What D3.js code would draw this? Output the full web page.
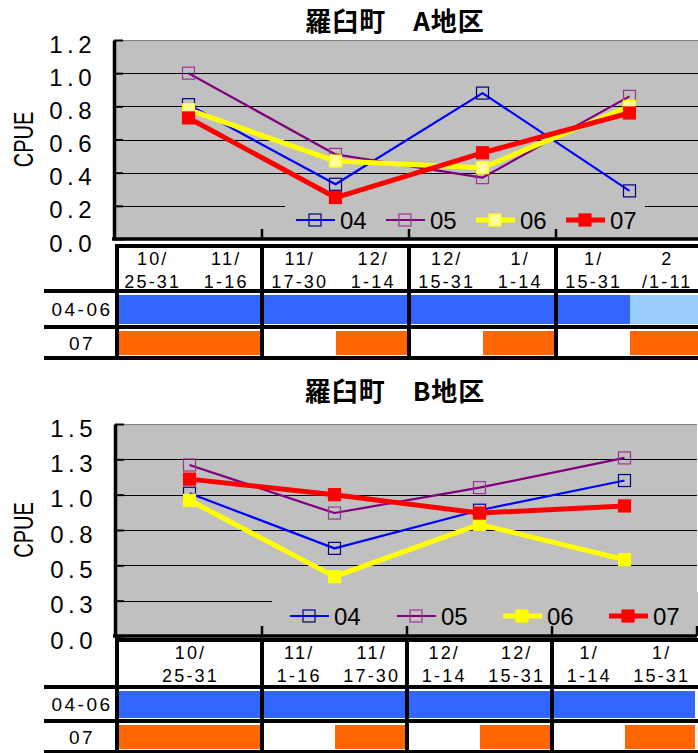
<!DOCTYPE html>
<html>
<head>
<meta charset="utf-8">
<script src="https://cdn.jsdelivr.net/npm/d3@7"></script>
<style>
  body { margin: 0; background: #fff; }
  svg { display: block; }
</style>
</head>
<body>
<svg id="chart" width="698" height="753"></svg>
<script>
// series names (years)
var seriesNames = ["04", "05", "06", "07"];

// A地区 CPUE, one value per period group
var a04 = [0.81, 0.33, 0.88, 0.29];
var a05 = [1.00, 0.51, 0.37, 0.86];
var a06 = [0.78, 0.47, 0.43, 0.80];
var a07 = [0.73, 0.25, 0.52, 0.76];

// B地区 CPUE
var b04 = [1.01, 0.62, 0.89, 1.10];
var b05 = [1.21, 0.87, 1.05, 1.26];
var b06 = [0.96, 0.42, 0.79, 0.54];
var b07 = [1.11, 1.00, 0.87, 0.92];

// y ticks
var ticksA = [0, 0.2, 0.4, 0.6, 0.8, 1.0, 1.2];
var tickLabelsA = ["0.0", "0.2", "0.4", "0.6", "0.8", "1.0", "1.2"];
var ticksB = [0, 0.25, 0.5, 0.75, 1.0, 1.25, 1.5];
var tickLabelsB = ["0.0", "0.3", "0.5", "0.8", "1.0", "1.3", "1.5"];

// period table headers (two half-columns per group; null = label spans group)
var headA = [["10/", "25-31"], ["11/", "1-16"], ["11/", "17-30"], ["12/", "1-14"],
             ["12/", "15-31"], ["1/", "1-14"], ["1/", "15-31"], ["2", "/1-11"]];
var headB = [["10/", "25-31"], null, ["11/", "1-16"], ["11/", "17-30"],
             ["12/", "1-14"], ["12/", "15-31"], ["1/", "1-14"], ["1/", "15-31"]];

// fishing period rows: b = blue, l = light blue, o = orange, "" = none
var rowLabels = ["04-06", "07"];
var periodA0406 = ["b", "b", "b", "b", "b", "b", "b", "l"];
var periodA07   = ["o", "o", "", "o", "", "o", "", "o"];
var periodB0406 = ["b", "b", "b", "b", "b", "b", "b", "b"];
var periodB07   = ["o", "o", "", "o", "", "o", "", "o"];

var barColor = { b: "#3366ff", l: "#99ccff", o: "#ff6600" };

var styles = [
  { line: "#0000ff", w: 2.2, fill: "none",    stroke: "#000080" },
  { line: "#800080", w: 2.2, fill: "none",    stroke: "#993399" },
  { line: "#ffff00", w: 5,   fill: "#ffff99", stroke: "#ffff00" },
  { line: "#ff0000", w: 5,   fill: "#ff0000", stroke: "#ff0000" }
];

var svg = d3.select("#chart");
var font = "'Liberation Sans', Arial, sans-serif";

function drawPanel(o) {
  var g = svg.append("g");
  var x = d3.scaleBand().domain(d3.range(4)).range(o.xRange).padding(0);
  var y = d3.scaleLinear().domain(o.domain).range([o.bottom, o.top]);
  var left = o.axisX, right = o.right;

  g.append("text").attr("x", 395).attr("y", o.titleY)
    .attr("text-anchor", "middle")
    .attr("font-family", "'Noto Sans CJK JP', sans-serif")
    .attr("font-weight", "bold").attr("font-size", 26).attr("letter-spacing", 1)
    .text(o.title);

  // plot area
  g.append("rect").attr("x", left).attr("y", o.top)
    .attr("width", right - left).attr("height", o.bottom - o.top)
    .attr("fill", "#c0c0c0");
  g.append("line").attr("x1", left).attr("x2", right)
    .attr("y1", o.top + 0.5).attr("y2", o.top + 0.5)
    .attr("stroke", "#808080").attr("stroke-width", 1);

  // gridlines
  g.selectAll(".grid").data(o.ticks.slice(1, -1)).enter().append("line")
    .attr("x1", left).attr("x2", right)
    .attr("y1", function(d) { return Math.round(y(d)) + 0.5; })
    .attr("y2", function(d) { return Math.round(y(d)) + 0.5; })
    .attr("stroke", "#000").attr("stroke-width", 1);

  // legend box
  g.append("rect").attr("x", o.legend.x).attr("y", o.legend.y)
    .attr("width", o.legend.w).attr("height", o.legend.h).attr("fill", "#c0c0c0");

  // y axis
  var yAxis = d3.axisLeft(y).tickValues(o.ticks).tickSizeInner(-9).tickSizeOuter(0)
    .tickFormat(function(d, i) { return o.tickLabels[i]; });
  var ya = g.append("g").attr("transform", "translate(" + left + ",0)").call(yAxis);
  ya.select(".domain").attr("stroke-width", 3.5);
  ya.selectAll(".tick line").attr("stroke-width", 2);
  ya.selectAll(".tick text").attr("x", -18).attr("dy", "0.5em")
    .attr("font-family", font).attr("font-size", 24).attr("letter-spacing", 4.5)
    .attr("fill", "#000");

  // x axis with group boundary ticks
  var xa = g.append("g").attr("transform", "translate(0," + o.bottom + ")");
  xa.append("line").attr("x1", left - 2).attr("x2", right)
    .attr("stroke", "#000").attr("stroke-width", 3.5);
  xa.selectAll(".xt").data(d3.range(1, 5)).enter().append("line")
    .attr("x1", function(d) { return x(d - 1) + x.bandwidth(); })
    .attr("x2", function(d) { return x(d - 1) + x.bandwidth(); })
    .attr("y1", 0).attr("y2", -10)
    .attr("stroke", "#000").attr("stroke-width", 2.5);

  g.append("text")
    .attr("transform", "translate(33," + ((o.top + o.bottom) / 2) + ") rotate(-90) scale(1,1.4)")
    .attr("text-anchor", "middle").attr("font-family", font).attr("font-size", 20)
    .text("CPUE");

  // series
  var line = d3.line()
    .x(function(d, i) { return x(i) + x.bandwidth() / 2; })
    .y(function(d) { return y(d); });
  o.series.forEach(function(vals, k) {
    var s = o.styles[k];
    g.append("path").datum(vals).attr("d", line)
      .attr("fill", "none").attr("stroke", s.line).attr("stroke-width", s.w)
      .attr("stroke-linejoin", "round");
    g.selectAll(".m" + k).data(vals).enter().append("rect")
      .attr("x", function(d, i) { return x(i) + x.bandwidth() / 2 - 6; })
      .attr("y", function(d) { return y(d) - 6; })
      .attr("width", 12).attr("height", 12)
      .attr("fill", s.fill).attr("stroke", s.stroke).attr("stroke-width", 1.2);
  });

  // legend
  seriesNames.forEach(function(name, k) {
    var s = o.styles[k], lx = o.legend.items[k], ly = o.legend.cy;
    g.append("line").attr("x1", lx).attr("x2", lx + 39).attr("y1", ly).attr("y2", ly)
      .attr("stroke", s.line).attr("stroke-width", s.w);
    g.append("rect").attr("x", lx + 13).attr("y", ly - 6).attr("width", 12).attr("height", 12)
      .attr("fill", s.fill).attr("stroke", s.stroke).attr("stroke-width", 1.2);
    g.append("text").attr("x", lx + 44).attr("y", ly + 9)
      .attr("font-family", font).attr("font-size", 24).text(name);
  });

  // period table
  var t = o.table;
  var tx = d3.scaleBand().domain(d3.range(8)).range(o.xRange).padding(0);
  var rows = [t.h1, t.r1, t.r2];

  [o.row0406, o.row07].forEach(function(row, r) {
    var y0 = rows[r], y1 = rows[r + 1];
    row.forEach(function(d, i) {
      if (!d) return;
      var x0 = Math.round(tx(i));
      var x1 = i === 7 ? o.barEnd : Math.round(tx(i + 1));
      g.append("rect").attr("x", x0).attr("y", y0 + 3.5)
        .attr("width", x1 - x0).attr("height", y1 - y0 - 7)
        .attr("fill", barColor[d]).attr("shape-rendering", "crispEdges");
    });
  });

  // header texts
  o.head.forEach(function(h, i) {
    if (!h) return;
    var cx = tx(i) + tx.bandwidth() / 2;
    if (o.head[i + 1] === null) cx = tx(i) + tx.bandwidth();
    [0, 1].forEach(function(j) {
      g.append("text").attr("x", cx + 1).attr("y", t.top + (j ? 42 : 19))
        .attr("text-anchor", "middle").attr("font-family", font)
        .attr("font-size", 18).attr("letter-spacing", 2.2).text(h[j]);
    });
  });

  // row labels
  rowLabels.forEach(function(lab, r) {
    g.append("text").attr("x", 82).attr("y", (rows[r] + rows[r + 1]) / 2 + 7)
      .attr("text-anchor", "middle").attr("font-family", font)
      .attr("font-size", 19).attr("letter-spacing", 2.5).text(lab);
  });

  // table lines
  var lw = 4;
  g.append("line").attr("x1", t.left).attr("x2", 698).attr("y1", t.top).attr("y2", t.top)
    .attr("stroke", "#000").attr("stroke-width", lw);
  [t.h1, t.r1, t.r2].forEach(function(yy) {
    g.append("line").attr("x1", 44).attr("x2", 698).attr("y1", yy).attr("y2", yy)
      .attr("stroke", "#000").attr("stroke-width", lw);
  });
  var vx = [t.left].concat(d3.range(1, 4).map(function(i) { return x(i); }));
  vx.forEach(function(xx) {
    g.append("line").attr("x1", xx).attr("x2", xx).attr("y1", t.top - 2).attr("y2", t.r2 + 2)
      .attr("stroke", "#000").attr("stroke-width", lw);
  });
}

drawPanel({
  title: "羅臼町\u3000A地区", titleY: 31,
  top: 40, bottom: 239, domain: [0, 1.2], axisX: 114, right: 698,
  xRange: [115, 703], ticks: ticksA, tickLabels: tickLabelsA,
  series: [a04, a05, a06, a07], styles: styles,
  legend: { x: 285, y: 200, w: 360, h: 37, cy: 220, items: [296, 386, 476, 566] },
  table: { top: 246, h1: 291, r1: 327, r2: 358, left: 117 },
  head: headA, row0406: periodA0406, row07: periodA07, barEnd: 698
});

var stylesB = styles.map(function(s, k) {
  return k === 2 ? { line: s.line, w: s.w, fill: "#ffff00", stroke: "#ffff00" } : s;
});

drawPanel({
  title: "羅臼町\u3000B地区", titleY: 401,
  top: 424, bottom: 636, domain: [0, 1.5], axisX: 115, right: 697,
  xRange: [117, 697], ticks: ticksB, tickLabels: tickLabelsB,
  series: [b04, b05, b06, b07], styles: stylesB,
  legend: { x: 272, y: 592, w: 426, h: 42, cy: 616, items: [290, 397, 503, 609] },
  table: { top: 640, h1: 687, r1: 721, r2: 752, left: 117 },
  head: headB, row0406: periodB0406, row07: periodB07, barEnd: 695
});
</script>
</body>
</html>
